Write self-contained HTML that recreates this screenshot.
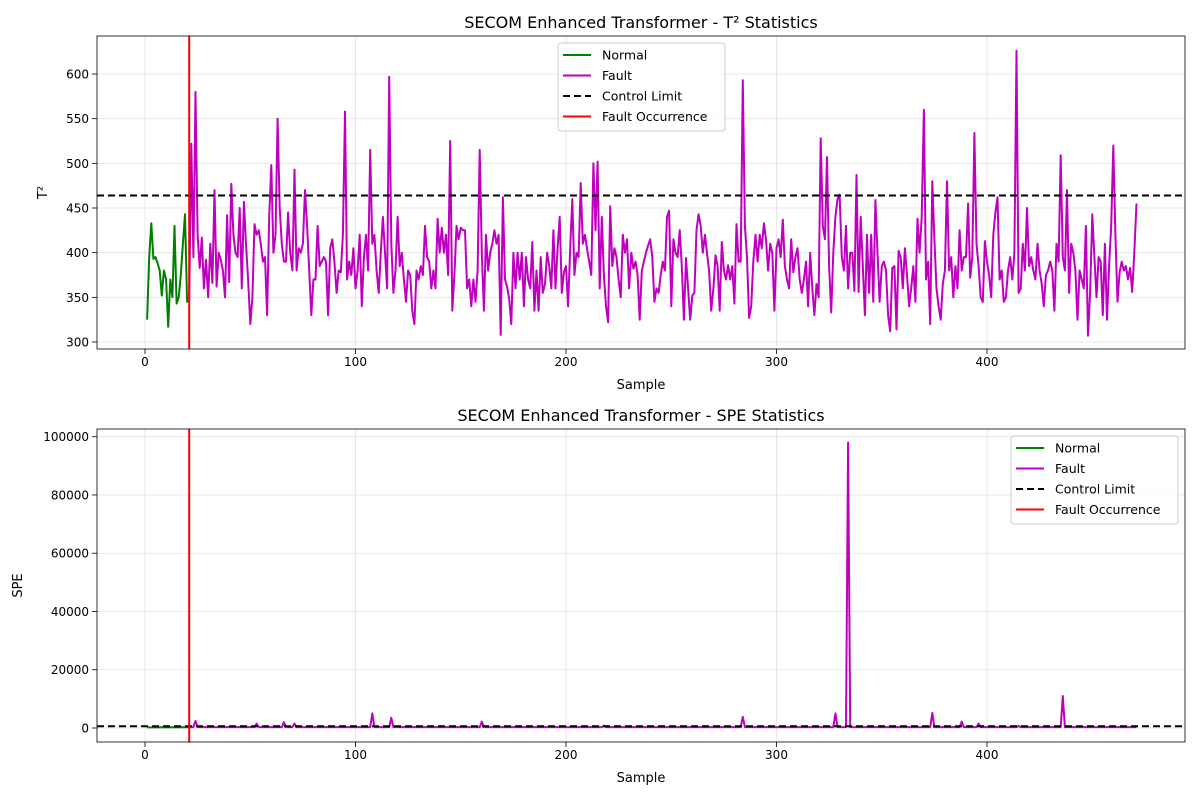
<!DOCTYPE html>
<html><head><meta charset="utf-8"><style>
body{margin:0;background:#fff;font-family:"Liberation Sans","DejaVu Sans",sans-serif}
svg text{font-family:"DejaVu Sans","Liberation Sans",sans-serif}
</style></head><body>
<svg id="c" width="1200" height="800" xmlns="http://www.w3.org/2000/svg"></svg>
<script>
const normalT2=[325,395,433,393,395,388,380,352,380,370,317,370,350,430,343,350,375,410,443,345,346];
const faultT2=[346,522,395,580,420,383,417,360,392,350,
410,366,470,362,400,392,380,350,442,367,
477,420,400,395,450,360,457,410,370,320,
350,432,420,425,410,390,395,330,440,498,
400,420,550,450,410,390,390,445,400,380,
493,380,405,400,410,470,430,380,330,370,
370,430,385,390,395,390,330,405,415,390,
355,380,378,420,558,370,390,375,405,360,
380,420,340,395,420,380,515,410,420,380,
355,400,440,400,360,597,410,355,380,440,
385,400,370,345,380,375,335,320,380,370,
385,375,430,395,390,360,380,360,438,400,
428,400,420,375,525,335,375,430,415,428,
425,425,360,370,340,370,345,380,515,400,
335,420,380,400,410,425,410,420,308,462,
370,362,348,320,400,360,400,370,400,340,
395,370,360,412,335,380,335,395,355,365,
400,385,360,425,360,405,440,355,378,385,
340,405,460,375,400,395,478,410,420,405,
390,375,500,425,502,360,440,375,340,322,
452,385,405,395,370,350,420,400,415,360,
400,382,390,375,325,380,390,400,408,415,
395,345,360,355,375,390,380,440,447,340,
415,400,395,425,385,325,394,360,325,352,
355,425,443,430,400,420,400,380,335,360,
397,385,335,412,380,370,386,370,385,343,
432,390,390,593,430,395,327,340,390,420,
390,420,405,433,415,380,410,400,335,405,
415,395,437,385,370,360,415,378,395,405,
370,355,370,390,340,400,360,330,365,350,
528,430,415,507,385,333,400,440,460,465,
395,380,430,360,400,400,357,487,356,440,
385,330,420,355,420,345,459,400,345,385,
390,380,330,312,383,385,314,402,395,360,
405,375,340,360,385,345,438,400,440,560,
370,390,320,480,415,360,340,325,365,380,
480,380,395,350,385,360,425,380,395,395,
455,372,395,534,410,385,350,345,413,390,
375,350,420,445,462,370,380,345,350,380,
395,370,400,626,355,360,410,380,450,385,
395,380,370,410,380,365,340,375,380,390,
380,335,410,390,509,395,380,470,355,410,
400,380,325,380,370,360,430,307,355,443,
395,350,395,390,330,410,325,385,430,520,
420,345,378,390,380,385,370,383,356,400,455];
const normalStart=1, faultStart=21;
const t2Limit=464, speLimit=600, faultAt=21;
const normalSpeX=[1,21];
const normalSpeY=[200,250];
const faultSpeX=[21,23,24,25,52,53,54,65,66,67,70,71,72,107,108,109,116,117,118,159,160,161,217,218,219,283,284,285,327,328,329,333,334,335,373,374,375,387,388,389,395,396,397,414,415,416,435,436,437,471];
const faultSpeY=[250,300,2400,300,300,1500,300,300,2000,300,300,1500,300,300,5000,300,300,3500,300,300,2200,300,300,800,300,300,3800,300,300,5000,300,300,98000,300,300,5200,300,300,2200,300,300,1500,300,300,700,300,300,11000,300,300];
const xTicks=[0,100,200,300,400];
const t2Ticks=[300,350,400,450,500,550,600];
const speTicks=[0,20000,40000,60000,80000,100000];

const svg=document.getElementById('c');const NS='http://www.w3.org/2000/svg';
function el(t,a,p){const e=document.createElementNS(NS,t);for(const k in a)e.setAttribute(k,a[k]);(p||svg).appendChild(e);return e;}
function txt(s,a,p){const e=el('text',a,p);e.textContent=s;return e;}
const L=97,R=1185;
const xs=v=>145+(v)*2.105;
function panel(name,top,bot,ys,yTicks,yLabel,title,nX,nY,fX,fY,limit,legX,legY,ylx){
  const g=el('g',{});
  
  
  const grid=el('g',{},g);
  
  
  xTicks.forEach(t=>{
    el('line',{x1:xs(t),x2:xs(t),y1:top,y2:bot,stroke:'#b0b0b0','stroke-opacity':0.35,'stroke-width':0.8},grid);
    el('line',{x1:xs(t),x2:xs(t),y1:bot,y2:bot+5,stroke:'#000','stroke-width':0.8},g);
    const tl=txt(String(t),{x:xs(t),y:bot+17,'font-size':12,'text-anchor':'middle',fill:'#000'},g);
    
    
  });
  yTicks.forEach(t=>{
    el('line',{x1:L,x2:R,y1:ys(t),y2:ys(t),stroke:'#b0b0b0','stroke-opacity':0.35,'stroke-width':0.8},grid);
    el('line',{x1:L-5,x2:L,y1:ys(t),y2:ys(t),stroke:'#000','stroke-width':0.8},g);
    const tl=txt(String(t),{x:L-8,y:ys(t)+4.5,'font-size':12,'text-anchor':'end',fill:'#000'},g);
    
    
  });
  const cp='clip-'+name;
  const cl=el('clipPath',{id:cp},g);
  el('rect',{x:L,y:top,width:R-L,height:bot-top},cl);
  const pl=el('g',{'clip-path':'url(#'+cp+')'},g);
  const pn=nX.map((x,i)=>xs(x).toFixed(1)+','+ys(nY[i]).toFixed(1)).join(' ');
  const ln=el('polyline',{points:pn,fill:'none',stroke:'#008000','stroke-width':2,'stroke-linejoin':'round'},pl);
  
  
  const pf=fX.map((x,i)=>xs(x).toFixed(1)+','+ys(fY[i]).toFixed(1)).join(' ');
  const lf=el('polyline',{points:pf,fill:'none',stroke:'#bf00bf','stroke-width':2,'stroke-linejoin':'round'},pl);
  
  
  const lim=el('line',{x1:L,x2:R,y1:ys(limit),y2:ys(limit),stroke:'#000','stroke-width':2,'stroke-dasharray':'7,4'},pl);
  
  
  const fo=el('line',{x1:xs(faultAt),x2:xs(faultAt),y1:top,y2:bot,stroke:'#ff0000','stroke-width':2},pl);
  
  
  el('rect',{x:L,y:top,width:R-L,height:bot-top,fill:'none',stroke:'#000','stroke-width':0.8},g);
  const tt=txt(title,{x:(L+R)/2,y:top-8,'font-size':16,'text-anchor':'middle',fill:'#000'},g);
  
  
  const xl=txt('Sample',{x:(L+R)/2,y:bot+40,'font-size':13,'text-anchor':'middle',fill:'#000'},g);
  
  
  const yl=txt(yLabel,{x:ylx,y:(top+bot)/2,'font-size':13,'text-anchor':'middle',fill:'#000',transform:'rotate(-90 '+ylx+' '+(top+bot)/2+')'},g);
  
  
  const lg=el('g',{},g);
  
  
  el('rect',{x:legX,y:legY,width:167,height:88,rx:3,fill:'#fff','fill-opacity':0.8,stroke:'#ccc'},lg);
  [['Normal','#008000',''],['Fault','#bf00bf',''],['Control Limit','#000','7,4'],['Fault Occurrence','#ff0000','']].forEach((it,i)=>{
    const y=legY+12+i*20.5;
    const e=el('g',{},lg);
    
    
    el('line',{x1:legX+5,x2:legX+33,y1:y,y2:y,stroke:it[1],'stroke-width':2,'stroke-dasharray':it[2]||'none'},e);
    txt(it[0],{x:legX+44,y:y+4.5,'font-size':12.5,fill:'#000'},e);
  });
}
const t2s=v=>342-(v-300)*0.8933;
const nX1=normalT2.map((v,i)=>normalStart+i), fX1=faultT2.map((v,i)=>faultStart+i);
panel('t2',36,349,t2s,t2Ticks,'T²','SECOM Enhanced Transformer - T² Statistics',nX1,normalT2,fX1,faultT2,t2Limit,558,43,47);
const spes=v=>728-v*0.002913;
panel('spe',429,742,spes,speTicks,'SPE','SECOM Enhanced Transformer - SPE Statistics',normalSpeX,normalSpeY,faultSpeX,faultSpeY,speLimit,1011,436,22);
</script>
</body></html>
